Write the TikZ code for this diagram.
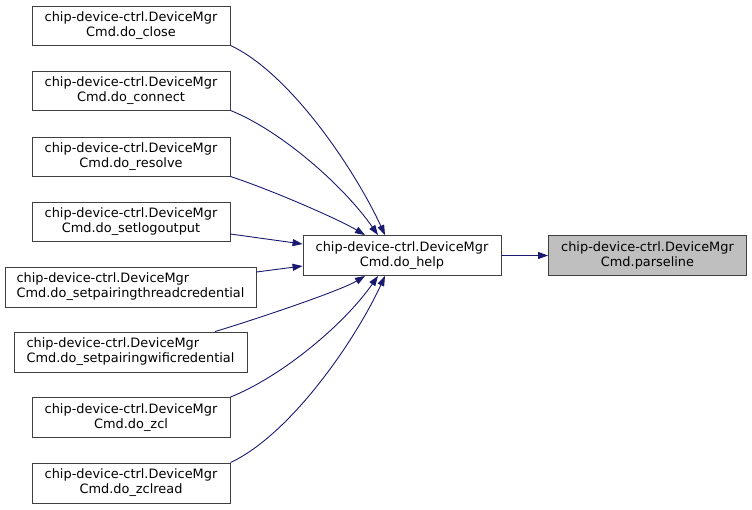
\documentclass[tikz,border=0pt]{standalone}
\usepackage{fontspec}
\setmainfont{DejaVu Sans}
\usetikzlibrary{arrows.meta,calc}
\definecolor{edgeblue}{HTML}{191970}
\definecolor{boxgrey}{HTML}{404040}
\definecolor{fillgrey}{HTML}{BFBFBF}

\begin{document}
\begin{tikzpicture}[x=1pt,y=-1pt,>={Triangle[length=10pt,width=7pt]},
  fn/.style={draw=boxgrey, line width=0.9pt, fill=white, minimum width=198pt,
    minimum height=39pt, inner sep=2pt, align=center,
    font=\fontsize{12.9}{15.2}\selectfont},
  call/.style={->, edgeblue, line width=0.9pt}]
\useasboundingbox (0,0) rectangle (752,509);
\node[fn] (close) at (131,25.5) {chip-device-ctrl.DeviceMgr\\Cmd.do\_close};
\node[fn] (connect) at (131,90.5) {chip-device-ctrl.DeviceMgr\\Cmd.do\_connect};
\node[fn] (resolve) at (131,156.5) {chip-device-ctrl.DeviceMgr\\Cmd.do\_resolve};
\node[fn] (setlog) at (131,221.5) {chip-device-ctrl.DeviceMgr\\Cmd.do\_setlogoutput};
\node[fn, minimum width=251pt, minimum height=40pt, align=left] (thread) at (130.5,287)
  {chip-device-ctrl.DeviceMgr\\Cmd.do\_setpairingthreadcredential};
\node[fn, minimum width=233pt, minimum height=40pt, align=left] (wifi) at (130.5,352)
  {chip-device-ctrl.DeviceMgr\\Cmd.do\_setpairingwificredential};
\node[fn, minimum height=40pt] (zcl) at (131,417.5) {chip-device-ctrl.DeviceMgr\\Cmd.do\_zcl};
\node[fn, minimum height=40pt] (zclread) at (131,483) {chip-device-ctrl.DeviceMgr\\Cmd.do\_zclread};
\node[fn, minimum height=40pt] (help) at (402,255.5) {chip-device-ctrl.DeviceMgr\\Cmd.do\_help};
\node[fn, minimum height=40pt, fill=fillgrey] (parse) at (647.5,255.5) {chip-device-ctrl.DeviceMgr\\Cmd.parseline};
% callers of do_help
\draw[call] (close.south east) .. controls +(60,28) and +(-30,-65) .. ($(help.north)+(-17,0)$);
\draw[call] (connect.south east) .. controls +(50,20) and +(-35,-50) .. ($(help.north)+(-24,0)$);
\draw[call] (resolve.south east) .. controls +(45,15) and +(-25,-15) .. ($(help.north)+(-37,0)$);
\draw[call] ($(setlog.east)+(0,12.5)$) -- ($(help.west)+(0,-11.5)$);
\draw[call] ($(thread.east)+(0,-15)$) -- ($(help.west)+(0,10.5)$);
\draw[call] ($(wifi.north)+(84.5,0)$) .. controls +(40,-12) and +(-25,15) .. ($(help.south)+(-37,0)$);
\draw[call] (zcl.north east) .. controls +(50,-20) and +(-35,50) .. ($(help.south)+(-24,0)$);
\draw[call] (zclread.north east) .. controls +(60,-28) and +(-30,65) .. ($(help.south)+(-17,0)$);
% do_help calls parseline
\draw[call] (help) -- (parse);
\end{tikzpicture}
\end{document}
